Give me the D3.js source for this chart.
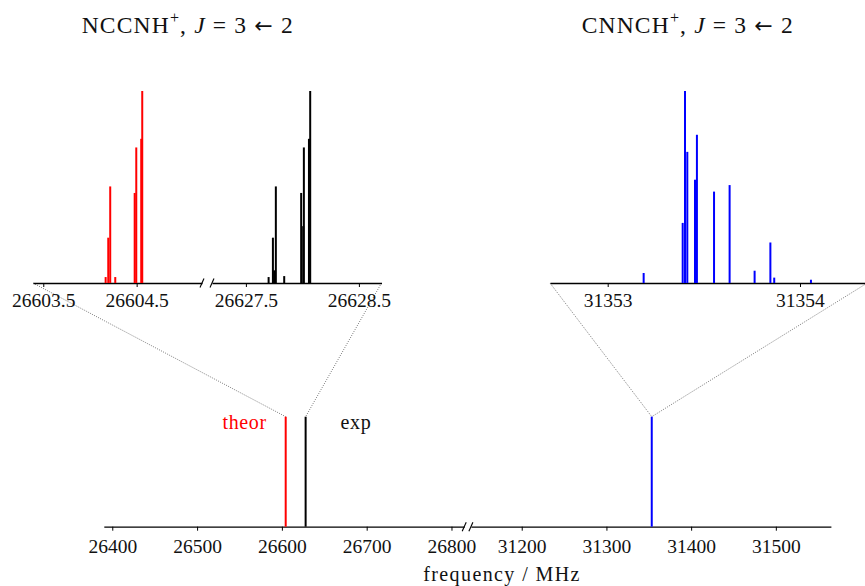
<!DOCTYPE html>
<html>
<head>
<meta charset="utf-8">
<script src="https://cdn.jsdelivr.net/npm/d3@7"></script>
<style>
  body { margin: 0; background: #fff; }
  text { font-family: "Liberation Serif", "Times New Roman", serif; fill: #111; }
</style>
</head>
<body>
<div id="chart"></div>
<script>
// --- data (MHz, relative intensity) ---
// NCCNH+ hyperfine components, theory (red) and experiment (black)
var theorFreq = [26604.168, 26604.196, 26604.217, 26604.271, 26604.479, 26604.496, 26604.549, 26604.560];
var theorInt  = [0.031, 0.236, 0.503, 0.031, 0.469, 0.706, 0.751, 1.0];
var expFreq   = [26627.701, 26627.739, 26627.750, 26627.765, 26627.839, 26627.989, 26628.007, 26628.013, 26628.058, 26628.069];
var expInt    = [0.031, 0.236, 0.066, 0.503, 0.036, 0.469, 0.296, 0.706, 0.751, 1.0];
// CNNCH+ hyperfine components
var cnnchFreq = [31353.187, 31353.390, 31353.402, 31353.414, 31353.454, 31353.464, 31353.553, 31353.634, 31353.764, 31353.846, 31353.866, 31354.057];
var cnnchInt  = [0.052, 0.313, 1.0, 0.683, 0.538, 0.772, 0.476, 0.51, 0.064, 0.211, 0.028, 0.017];

// overview sticks: theor, exp, CNNCH+
var overviewFreq = [26604.5, 26628.0, 31353.5];
var overviewNames = ["theor", "exp", "cnnch"];

// axis segments (domains) and ticks
var zoomLeftDomainA = [26603.39, 26605.2];
var zoomLeftDomainB = [26627.2, 26628.7];
var zoomRightDomain = [31352.7, 31354.35];
var overviewDomainA = [26390, 26815];
var overviewDomainB = [31140, 31565];

var ticksZoomLeftA = [26603.5, 26604.5];
var ticksZoomLeftB = [26627.5, 26628.5];
var ticksZoomRight = [31353, 31354];
var ticksOverviewA = [26400, 26500, 26600, 26700, 26800];
var ticksOverviewB = [31200, 31300, 31400, 31500];

var titleMolecules = ["NCCNH", "CNNCH"];
var xAxisLabel = "frequency / MHz";

// --- layout ---
var width = 865, height = 586;
var topBase = 283, topPeak = 91;
var botBase = 526.7, botPeak = 416.7;

var svg = d3.select("#chart").append("svg")
    .attr("width", width)
    .attr("height", height);

// scales
var xZA = d3.scaleLinear().domain(zoomLeftDomainA).range([33, 202]);
var xZB = d3.scaleLinear().domain(zoomLeftDomainB).range([212, 381.5]);
var xZR = d3.scaleLinear().domain(zoomRightDomain).range([550, 867.3]);
var xOA = d3.scaleLinear().domain(overviewDomainA).range([103.8, 464.2]);
var xOB = d3.scaleLinear().domain(overviewDomainB).range([470.9, 830.9]);

var yTop = d3.scaleLinear().domain([0, 1]).range([topBase, topPeak]);
var yBot = d3.scaleLinear().domain([0, 1]).range([botBase, botPeak]);

var colors = { theor: "#ff0000", exp: "#000000", cnnch: "#0000ff" };

// dotted connector lines (drawn first, under everything)
function connector(x1, y1, x2, y2) {
    svg.append("line")
        .attr("x1", x1).attr("y1", y1)
        .attr("x2", x2).attr("y2", y2)
        .attr("stroke", "#444")
        .attr("stroke-width", 0.7)
        .attr("stroke-dasharray", "1,1.3");
}
connector(xZA.range()[0], topBase, xOA(overviewFreq[0]), yBot(1));
connector(xZB.range()[1], topBase, xOA(overviewFreq[1]), yBot(1));
connector(xZR.range()[0], topBase, xOB(overviewFreq[2]), yBot(1));
connector(xZR.range()[1], topBase, xOB(overviewFreq[2]), yBot(1));

// axis segment helper
function drawAxis(scale, y, ticks, fmt, labelOffset) {
    var g = svg.append("g")
        .attr("transform", "translate(0," + y + ")")
        .call(d3.axisBottom(scale)
            .tickValues(ticks)
            .tickFormat(d3.format(fmt))
            .tickSizeInner(4)
            .tickSizeOuter(0));
    g.select(".domain").attr("stroke", "#000").attr("stroke-width", 1.3);
    g.selectAll(".tick line").attr("stroke", "#000").attr("stroke-width", 1);
    g.selectAll(".tick text")
        .attr("dy", null)
        .attr("y", labelOffset)
        .attr("fill", "#111")
        .style("font-size", "19.5px")
        .style("font-family", "'Liberation Serif', serif");
    return g;
}

// axis break marks "//"
function breakMark(x, y) {
    svg.append("line")
        .attr("x1", x - 2).attr("y1", y + 4.5)
        .attr("x2", x + 2).attr("y2", y - 4.5)
        .attr("stroke", "#000").attr("stroke-width", 1.1);
}

// sticks helper
function drawSticks(freqs, ints, xs, ys, color, w) {
    svg.append("g").selectAll("line")
        .data(freqs)
        .enter().append("line")
        .attr("x1", function(d) { return xs(d); })
        .attr("x2", function(d) { return xs(d); })
        .attr("y1", ys(0))
        .attr("y2", function(d, i) { return ys(ints[i]); })
        .attr("stroke", color)
        .attr("stroke-width", w);
}

// top zoom panels
drawAxis(xZA, topBase, ticksZoomLeftA, ".1f", 23.7);
drawAxis(xZB, topBase, ticksZoomLeftB, ".1f", 23.7);
drawAxis(xZR, topBase, ticksZoomRight, "d", 23.7);
breakMark(xZA.range()[1], topBase);
breakMark(xZB.range()[0], topBase);

drawSticks(theorFreq, theorInt, xZA, yTop, colors.theor, 2);
drawSticks(expFreq, expInt, xZB, yTop, colors.exp, 2);
drawSticks(cnnchFreq, cnnchInt, xZR, yTop, colors.cnnch, 2);

// bottom overview
drawAxis(xOA, botBase, ticksOverviewA, "d", 26);
drawAxis(xOB, botBase, ticksOverviewB, "d", 26);
breakMark(xOA.range()[1], botBase);
breakMark(xOB.range()[0], botBase);

svg.append("g").selectAll("line")
    .data(overviewFreq)
    .enter().append("line")
    .attr("x1", function(d, i) { return i < 2 ? xOA(d) : xOB(d); })
    .attr("x2", function(d, i) { return i < 2 ? xOA(d) : xOB(d); })
    .attr("y1", yBot(0))
    .attr("y2", yBot(1))
    .attr("stroke", function(d, i) { return colors[overviewNames[i]]; })
    .attr("stroke-width", 2);

// stick labels
svg.append("text")
    .attr("x", xOA(overviewFreq[0]) - 19)
    .attr("y", 429.3)
    .attr("text-anchor", "end")
    .style("font-size", "20px")
    .style("letter-spacing", "0.6px")
    .style("fill", colors.theor)
    .text(overviewNames[0]);

svg.append("text")
    .attr("x", xOA(overviewFreq[1]) + 35)
    .attr("y", 429.3)
    .attr("text-anchor", "start")
    .style("font-size", "20px")
    .style("letter-spacing", "0.6px")
    .text(overviewNames[1]);

// x axis label
svg.append("text")
    .attr("x", 502)
    .attr("y", 581)
    .attr("text-anchor", "middle")
    .style("font-size", "20px")
    .style("letter-spacing", "1.4px")
    .text(xAxisLabel);

// titles
function title(x, molecule) {
    var t = svg.append("text")
        .attr("x", x)
        .attr("y", 33)
        .attr("textLength", 211)
        .attr("lengthAdjust", "spacing")
        .style("font-size", "23.5px");
    t.append("tspan").text(molecule);
    t.append("tspan").attr("dy", -10).style("font-size", "16px").text("+");
    t.append("tspan").attr("dy", 10).text(", ");
    t.append("tspan").style("font-style", "italic").text("J");
    t.append("tspan").text(" = 3 ");
    t.append("tspan").style("font-family", "'DejaVu Sans', sans-serif").style("font-size", "22px").text("\u2190");
    t.append("tspan").text(" 2");
}
title(81.7, titleMolecules[0]);
title(581.7, titleMolecules[1]);
</script>
</body>
</html>
